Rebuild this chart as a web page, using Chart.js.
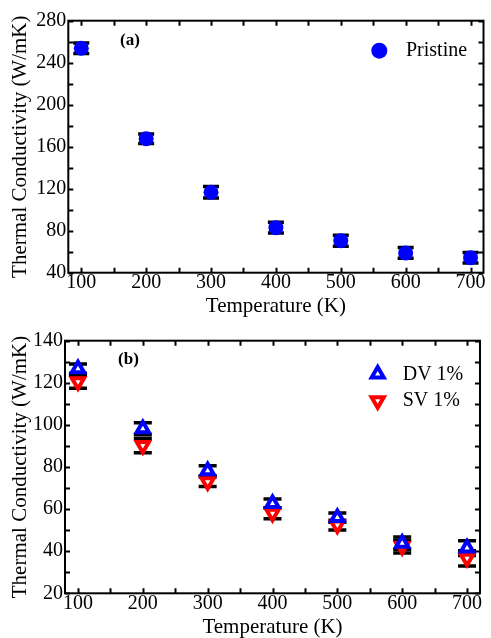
<!DOCTYPE html>
<html><head><meta charset="utf-8">
<script src="https://cdn.jsdelivr.net/npm/chart.js@4"></script>
<style>
html,body{margin:0;padding:0;background:#fff;}
#wrap{position:relative;width:491px;height:638px;overflow:hidden;background:#fff}
canvas{position:absolute;left:0}
</style></head><body>
<div id="wrap">
<canvas id="ca" width="491" height="320" style="top:0"></canvas>
<canvas id="cb" width="491" height="318" style="top:320px"></canvas>
</div>
<script>
// ---- data ----
const temperatures = [100, 200, 300, 400, 500, 600, 700];
const pristine    = [253.8, 167.6, 116.6, 82.9, 70.5, 58.8, 54.3];
const pristineErr = [5.0, 4.5, 5.4, 5.2, 5.2, 5.1, 5.0];
const dv1         = [126.7, 98.2, 78.2, 62.7, 56.0, 43.8, 41.5];
const dv1Err      = [2.2, 2.8, 2.4, 2.1, 2.2, 3.0, 3.5];
const sv1         = [120.5, 90.2, 73.0, 58.0, 52.4, 42.2, 36.6];
const sv1Err      = [3.1, 3.4, 2.3, 2.6, 2.3, 3.0, 3.6];
const xTickLabels = [100, 200, 300, 400, 500, 600, 700];
const yTickLabelsA = [40, 80, 120, 160, 200, 240, 280];
const yTickLabelsB = [20, 40, 60, 80, 100, 120, 140];

const FONT = "'Liberation Serif', 'Times New Roman', serif";
const BLUE = '#0000ff', RED = '#ff0000';

const pairs = (xs, ys) => xs.map((x, i) => ({x: x, y: ys[i]}));

const overlay = {
  id: 'overlay',
  beforeDatasetsDraw(chart, args, opts) {
    const ctx = chart.ctx, xs = chart.scales.x, ys = chart.scales.y;
    ctx.save();
    ctx.strokeStyle = '#000';
    ctx.lineWidth = opts.errWidth;
    chart.data.datasets.forEach((ds, di) => {
      const errs = opts.errors[di];
      ds.data.forEach((p, j) => {
        const px = xs.getPixelForValue(p.x);
        const yt = ys.getPixelForValue(p.y + errs[j]);
        const yb = ys.getPixelForValue(p.y - errs[j]);
        const h = opts.capHalf;
        ctx.beginPath();
        ctx.moveTo(px, yt); ctx.lineTo(px, yb);
        ctx.moveTo(px - h, yt); ctx.lineTo(px + h, yt);
        ctx.moveTo(px - h, yb); ctx.lineTo(px + h, yb);
        ctx.stroke();
      });
    });
    ctx.restore();
  },
  afterDraw(chart, args, opts) {
    const ctx = chart.ctx, a = chart.chartArea, xs = chart.scales.x, ys = chart.scales.y;
    ctx.save();
    ctx.strokeStyle = '#000';
    ctx.lineWidth = 2;
    const L = 5;
    ctx.beginPath();
    for (let v = opts.xFirst; v <= xs.max; v += opts.xStep) {
      const px = Math.round(xs.getPixelForValue(v)) + 0.5;
      ctx.moveTo(px, a.bottom); ctx.lineTo(px, a.bottom - L);
      ctx.moveTo(px, a.top); ctx.lineTo(px, a.top + L);
    }
    for (let v = ys.min; v <= ys.max; v += opts.yStep) {
      const py = Math.round(ys.getPixelForValue(v)) + 0.5;
      ctx.moveTo(a.left, py); ctx.lineTo(a.left + L, py);
      ctx.moveTo(a.right, py); ctx.lineTo(a.right - L, py);
    }
    ctx.stroke();
    ctx.strokeRect(a.left, a.top, a.width, a.height);
    // panel label
    ctx.fillStyle = '#000';
    ctx.font = 'bold 17px ' + FONT;
    ctx.textAlign = 'center';
    ctx.textBaseline = 'middle';
    ctx.fillText(opts.panel.text, a.left + opts.panel.dx, a.top + opts.panel.dy);
    // legend
    opts.legend.forEach(item => {
      const ds = chart.data.datasets[item.dataset];
      const mx = a.left + item.dx, my = a.top + item.dy;
      ctx.fillStyle = ds.pointBackgroundColor;
      ctx.strokeStyle = ds.pointBorderColor;
      ctx.lineWidth = ds.pointBorderWidth;
      Chart.helpers.drawPoint(ctx, {
        pointStyle: ds.pointStyle, radius: item.r, rotation: ds.pointRotation || 0,
        borderWidth: ds.pointBorderWidth
      }, mx, my);
      ctx.fillStyle = '#000';
      ctx.font = '20px ' + FONT;
      ctx.textAlign = 'left';
      ctx.textBaseline = 'middle';
      ctx.fillText(ds.label, mx + item.tx, my + (item.ty || 0));
    });
    ctx.restore();
  }
};

function scales(yTicks, yMin, yMax, yWidth, xHeight, yTitlePad, xTitlePad) {
  return {
    x: {
      type: 'linear', min: 80, max: 720, position: 'bottom',
      afterBuildTicks: s => { s.ticks = xTickLabels.map(v => ({value: v})); },
      afterFit: s => { s.height = xHeight; s.paddingLeft = 0; s.paddingRight = 0; },
      grid: {display: false, drawTicks: false}, border: {display: false},
      ticks: {color: '#000', font: {family: FONT, size: 20}, padding: -2, maxRotation: 0, autoSkip: false},
      title: {display: true, text: 'Temperature (K)', color: '#000',
              font: {family: FONT, size: 21, lineHeight: 1}, padding: {top: 0, bottom: xTitlePad}}
    },
    y: {
      type: 'linear', min: yMin, max: yMax, position: 'left',
      afterBuildTicks: s => { s.ticks = yTicks.map(v => ({value: v})); },
      afterFit: s => { s.width = yWidth; s.paddingTop = 0; s.paddingBottom = 0; },
      grid: {display: false, drawTicks: false}, border: {display: false},
      ticks: {color: '#000', font: {family: FONT, size: 20}, padding: 2, autoSkip: false},
      title: {display: true, text: 'Thermal Conductivity (W/mK)', color: '#000',
              font: {family: FONT, size: 21, lineHeight: 1}, padding: {top: yTitlePad, bottom: 0}}
    }
  };
}

const common = {
  responsive: false, animation: false, devicePixelRatio: 1,
  events: []
};

new Chart(document.getElementById('ca'), {
  type: 'scatter',
  data: {datasets: [{
    label: 'Pristine', data: pairs(temperatures, pristine),
    pointStyle: 'circle', pointRadius: 7.5, pointBackgroundColor: BLUE,
    pointBorderColor: BLUE, pointBorderWidth: 0
  }]},
  options: Object.assign({}, common, {
    layout: {padding: {top: 20.7, right: 2, left: 0, bottom: 0}},
    scales: scales(yTickLabelsA, 40, 280, 68.3, 47.3, 9.5, 2.6),
    plugins: {
      legend: {display: false}, tooltip: {enabled: false},
      overlay: {
        errors: [pristineErr], errWidth: 3.5, capHalf: 8,
        xFirst: 100, xStep: 50, yStep: 20,
        panel: {text: '(a)', dx: 61.7, dy: 20},
        legend: [{dataset: 0, dx: 311, dy: 30, r: 8, tx: 26.7}]
      }
    }
  }),
  plugins: [overlay]
});

new Chart(document.getElementById('cb'), {
  type: 'scatter',
  data: {datasets: [{
    label: 'DV 1%', data: pairs(temperatures, dv1),
    pointStyle: 'triangle', pointRadius: 7, pointBackgroundColor: '#fff',
    pointBorderColor: BLUE, pointBorderWidth: 4
  }, {
    label: 'SV 1%', data: pairs(temperatures, sv1),
    pointStyle: 'triangle', pointRotation: 180, pointRadius: 7, pointBackgroundColor: '#fff',
    pointBorderColor: RED, pointBorderWidth: 4
  }]},
  options: Object.assign({}, common, {
    layout: {padding: {top: 20.7, right: 5, left: 0, bottom: 0}},
    scales: scales(yTickLabelsB, 20, 140, 65, 44.7, 10.3, 0),
    plugins: {
      legend: {display: false}, tooltip: {enabled: false},
      overlay: {
        errors: [dv1Err, sv1Err], errWidth: 3.5, capHalf: 9,
        xFirst: 100, xStep: 50, yStep: 10,
        panel: {text: '(b)', dx: 63.5, dy: 19.3},
        legend: [{dataset: 0, dx: 312.7, dy: 33.3, r: 7, tx: 25, ty: 1},
                 {dataset: 1, dx: 312.7, dy: 60, r: 7, tx: 25, ty: 0}]
      }
    }
  }),
  plugins: [overlay]
});
</script>
</body></html>
